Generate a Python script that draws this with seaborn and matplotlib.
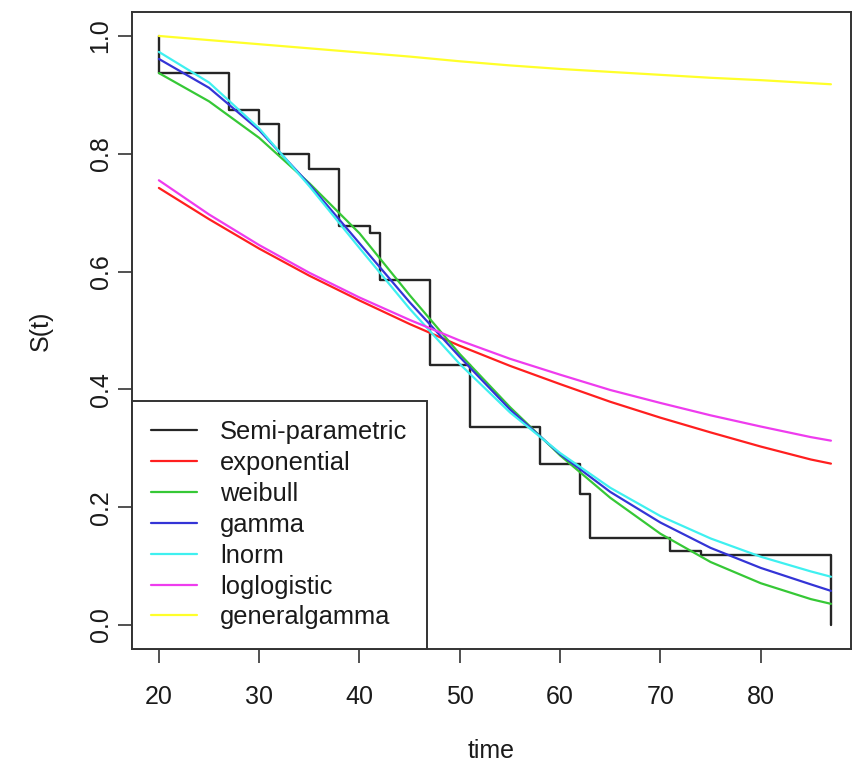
import numpy as np
import pandas as pd
import matplotlib
matplotlib.use('Agg')
import matplotlib.pyplot as plt
import seaborn as sns

# Kaplan-Meier (semi-parametric) step values
km_time = [20, 20, 27, 30, 32, 35, 38, 41, 42, 47, 51, 58, 62, 63, 71, 74, 87]
km_surv = [1.0, 0.9375, 0.875, 0.85, 0.80, 0.775, 0.677, 0.666, 0.586, 0.441,
           0.337, 0.273, 0.222, 0.147, 0.126, 0.119, 0.0]

# Fitted parametric survival curves, read at these times
t_grid = [20, 25, 30, 35, 40, 45, 50, 55, 60, 65, 70, 75, 80, 85, 87]
s_exponential = [0.742, 0.689, 0.639, 0.593, 0.551, 0.511, 0.474, 0.440,
                 0.409, 0.379, 0.352, 0.327, 0.303, 0.281, 0.274]
s_weibull = [0.937, 0.889, 0.827, 0.750, 0.665, 0.560, 0.460, 0.370,
             0.288, 0.216, 0.155, 0.107, 0.071, 0.044, 0.036]
s_gamma = [0.961, 0.912, 0.840, 0.748, 0.648, 0.548, 0.455, 0.366,
           0.290, 0.226, 0.174, 0.131, 0.097, 0.069, 0.058]
s_lnorm = [0.973, 0.921, 0.843, 0.745, 0.640, 0.537, 0.443, 0.361,
           0.292, 0.233, 0.185, 0.147, 0.116, 0.091, 0.082]
s_loglogistic = [0.755, 0.697, 0.645, 0.598, 0.556, 0.518, 0.483, 0.452,
                 0.425, 0.399, 0.377, 0.356, 0.337, 0.319, 0.313]
s_generalgamma = [1.000, 0.993, 0.986, 0.979, 0.972, 0.965, 0.957, 0.950,
                  0.944, 0.939, 0.934, 0.929, 0.925, 0.920, 0.918]

labels = ['Semi-parametric', 'exponential', 'weibull', 'gamma', 'lnorm',
          'loglogistic', 'generalgamma']
colors = ['#262626', '#ff1f1f', '#36c836', '#3434d6', '#3ff0f0', '#ee3cee', '#ffff2a']

sns.set_style('ticks')
plt.rcParams['font.family'] = ['Liberation Sans', 'DejaVu Sans']
plt.rcParams['text.color'] = '#1a1a1a'
plt.rcParams['axes.labelcolor'] = '#1a1a1a'
plt.rcParams['xtick.labelcolor'] = '#1a1a1a'
plt.rcParams['ytick.labelcolor'] = '#1a1a1a'

fig = plt.figure(figsize=(8.52, 7.66), dpi=100)
ax = fig.add_axes([132 / 852, 117.4 / 766, 719 / 852, 636.2 / 766])

km = pd.DataFrame({'time': km_time, 'surv': km_surv})
sns.lineplot(data=km, x='time', y='surv', estimator=None, sort=False,
             drawstyle='steps-post', color=colors[0], lw=1.7, label=labels[0], ax=ax)

curves = pd.DataFrame({'time': t_grid, labels[1]: s_exponential, labels[2]: s_weibull,
                       labels[3]: s_gamma, labels[4]: s_lnorm,
                       labels[5]: s_loglogistic, labels[6]: s_generalgamma})
for name, col in zip(labels[1:], colors[1:]):
    sns.lineplot(data=curves, x='time', y=name, estimator=None, color=col,
                 lw=1.6, label=name, ax=ax)

ax.set_xlim(17.32, 89.0)
ax.set_ylim(-0.04, 1.04)
ax.set_xticks([20, 30, 40, 50, 60, 70, 80])
ax.set_yticks([0.0, 0.2, 0.4, 0.6, 0.8, 1.0])
ax.set_yticklabels(['0.0', '0.2', '0.4', '0.6', '0.8', '1.0'], rotation=90, va='center')
ax.tick_params(axis='both', length=10, width=1.2, color='#333333', labelsize=18)
ax.tick_params(axis='x', pad=16)
ax.tick_params(axis='y', pad=4)
for sp in ax.spines.values():
    sp.set_linewidth(1.4)
    sp.set_color('#333333')

ax.set_xlabel('time', fontsize=18, labelpad=22)
ax.set_ylabel('S(t)', fontsize=18, labelpad=26)

leg = ax.legend(loc='lower left', bbox_to_anchor=(0, 0), borderaxespad=0,
                fontsize=18.4, frameon=True, fancybox=False, edgecolor='#333333',
                framealpha=1, handlelength=1.8, handletextpad=0.9,
                borderpad=0.75, labelspacing=0.27)
leg.get_frame().set_linewidth(1.4)
for line in leg.get_lines():
    line.set_linewidth(1.6)

fig.savefig('out.png', dpi=100)
